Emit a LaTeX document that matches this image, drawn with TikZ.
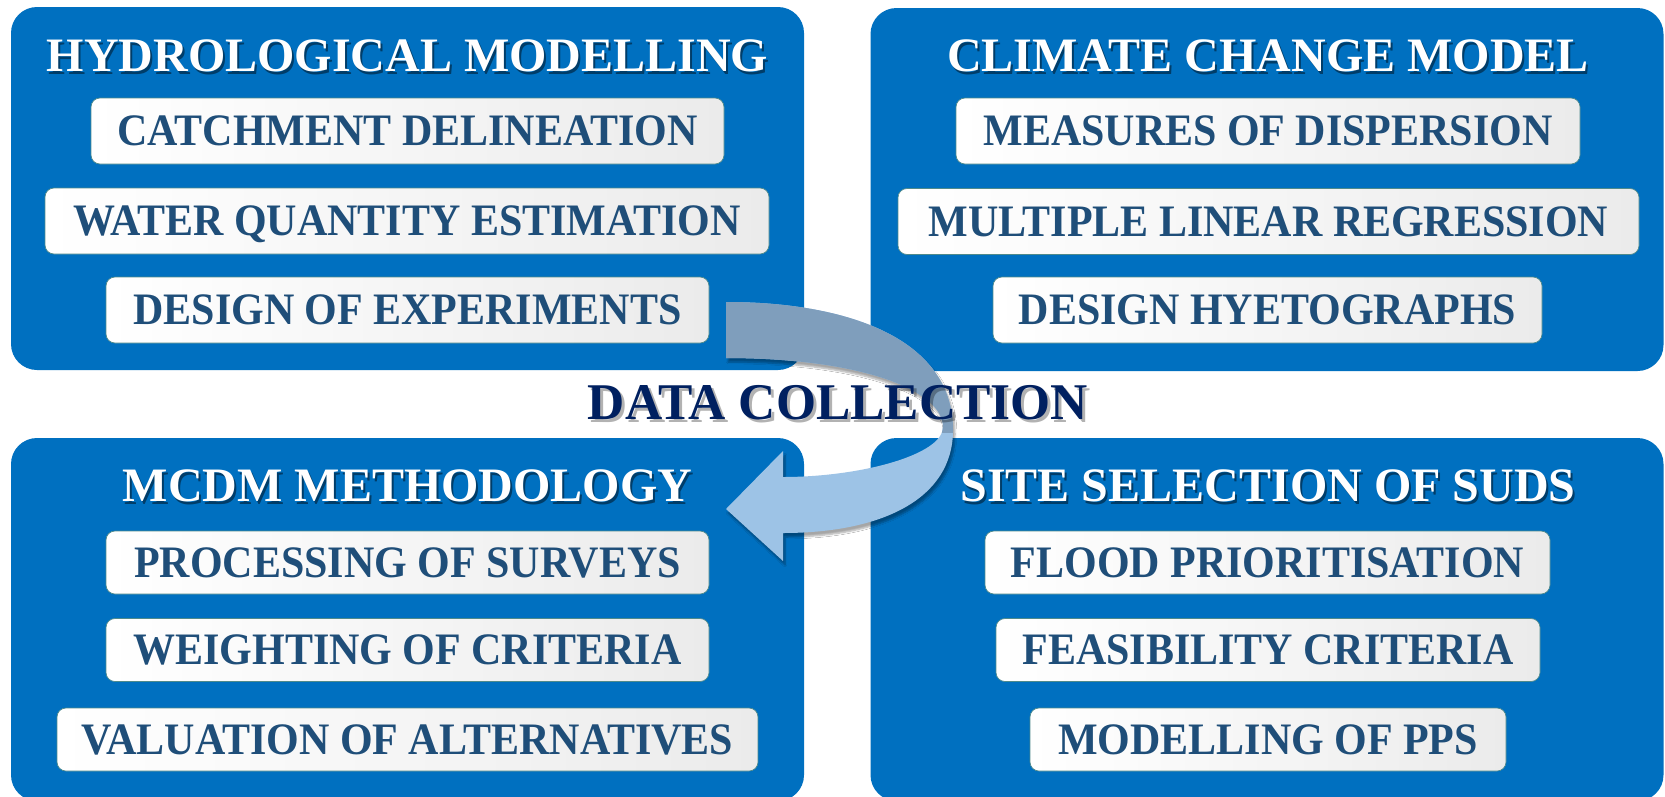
\documentclass[tikz,border=0pt]{standalone}
\usepackage{fontspec}
\setmainfont{Liberation Serif}
\newfontfamily\dcItemFont[FakeStretch=0.933]{Liberation Serif}
\usetikzlibrary{shadows.blur}
\definecolor{boxblue}{HTML}{0070C0}
\definecolor{itemtext}{HTML}{1F4E79}
\definecolor{navy}{HTML}{002060}
\definecolor{itemedge}{HTML}{4F8A8B}
\definecolor{arrowtop}{HTML}{7F9EBC}
\definecolor{arrowbot}{HTML}{9DC3E6}
\definecolor{itemgrey}{HTML}{EBEBEB}
\newcommand\dcArrowPath{(726,302) .. controls (850,302) and (953,340) .. (953,430)
  .. controls (953,500) and (880,533) .. (783,533) -- (783,561) -- (726,509) -- (783,451) -- (783,477)
  .. controls (860,477) and (943,455) .. (943,427)
  .. controls (943,390) and (860,358) .. (726,358) -- cycle}
\begin{document}
\begin{tikzpicture}[x=1pt,y=-1pt,
  panel/.style={draw=none, fill=boxblue, rounded corners=26pt, minimum width=793pt, minimum height=363pt, inner sep=0pt},
  item/.style={draw=itemedge, line width=0.7pt, rounded corners=9pt, left color=white, right color=itemgrey,
     minimum height=66pt, inner sep=0pt, text=itemtext, font=\dcItemFont\fontsize{45}{50}\selectfont\bfseries,
     text height=29.5pt, text depth=0pt},
  lowitem/.style={item, minimum height=63pt},
  title/.style={text=white, font=\fontsize{48}{56}\selectfont\bfseries, text height=31.4pt, text depth=0pt, inner sep=0pt},
  titleshadow/.style={title, text=black, opacity=0.45},
  bigtext/.style={text=navy, font=\fontsize{51.5}{58}\selectfont\bfseries, text height=33.7pt, text depth=0pt, inner sep=0pt},
  bigshadow/.style={bigtext, text=black, opacity=0.3}
]
\useasboundingbox (0,0) rectangle (1665,796);
\fill[white] (0,0) rectangle (1665,796);
\begin{scope}
\clip (0,0) rectangle (1665,796);
% panels
\node[panel] (ptl) at (407.5,188.5) {};
\node[panel] (ptr) at (1267,189.5) {};
\node[panel] (pbl) at (407.5,619.5) {};
\node[panel] (pbr) at (1267,619.5) {};
\end{scope}

% titles
\node[titleshadow] (t1s) at (409.5,58.5) {HYDROLOGICAL MODELLING};
\node[title] (t1) at (407.5,56) {HYDROLOGICAL MODELLING};
\node[titleshadow] (t2s) at (1270,58.5) {CLIMATE CHANGE MODEL};
\node[title] (t2) at (1268,56) {CLIMATE CHANGE MODEL};
\node[titleshadow] (t3s) at (409.5,488.5) {MCDM METHODOLOGY};
\node[title] (t3) at (407.5,486) {MCDM METHODOLOGY};
\node[titleshadow] (t4s) at (1270,488.5) {SITE SELECTION OF SUDS};
\node[title] (t4) at (1268,486) {SITE SELECTION OF SUDS};

% items
\node[item, minimum width=633pt] (a1) at (407.5,131) {CATCHMENT DELINEATION};
\node[item, minimum width=724pt] (a2) at (407,221) {WATER QUANTITY ESTIMATION};
\node[item, minimum width=603pt] (a3) at (407.5,310) {DESIGN OF EXPERIMENTS};

\node[item, minimum width=624pt] (b1) at (1268,131) {MEASURES OF DISPERSION};
\node[item, minimum width=741pt] (b2) at (1268.5,221.5) {MULTIPLE LINEAR REGRESSION};
\node[item, minimum width=549pt] (b3) at (1267.5,310) {DESIGN HYETOGRAPHS};

\node[lowitem, minimum width=603pt] (c1) at (407.5,562.5) {PROCESSING OF SURVEYS};
\node[lowitem, minimum width=603pt] (c2) at (407.5,650) {WEIGHTING OF CRITERIA};
\node[lowitem, minimum width=701pt] (c3) at (407.5,739.5) {VALUATION OF ALTERNATIVES};

\node[lowitem, minimum width=565pt] (d1) at (1267.5,562.5) {FLOOD PRIORITISATION};
\node[lowitem, minimum width=544pt] (d2) at (1268,650) {FEASIBILITY CRITERIA};
\node[lowitem, minimum width=476pt] (d3) at (1268,739.5) {MODELLING OF PPS};

% curved arrow
\fill[arrowbot, blur shadow={shadow xshift=2pt, shadow yshift=-4pt, shadow blur steps=6, shadow opacity=35}] \dcArrowPath;
\begin{scope}
\clip (700,280) rectangle (1000,432);
\fill[arrowtop] \dcArrowPath;
\end{scope}

% central label
\node[bigshadow] (dcs) at (841,406) {DATA COLLECTION};
\node[bigtext] (dc) at (838,403) {DATA COLLECTION};
\end{tikzpicture}
\end{document}
